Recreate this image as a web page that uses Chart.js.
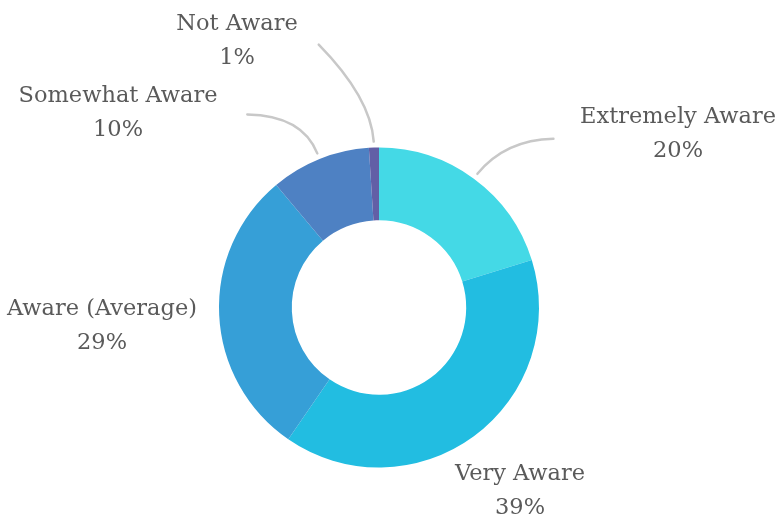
<!DOCTYPE html>
<html>
<head>
<meta charset="utf-8">
<script src="https://cdn.jsdelivr.net/npm/chart.js@4.4.1/dist/chart.umd.min.js"></script>
<style>
  html, body { margin: 0; padding: 0; background: #ffffff; }
  #wrap { width: 781px; height: 519px; }
</style>
</head>
<body>
<div id="wrap"><canvas id="chart" width="781" height="519"></canvas></div>
<script>
// Awareness levels, percent of respondents
const categories = ['Extremely Aware', 'Very Aware', 'Aware (Average)', 'Somewhat Aware', 'Not Aware'];
const shares = [20, 39, 29, 10, 1];
const sliceColors = ['#44D9E6', '#22BDE1', '#369FD7', '#4E81C3', '#625FA6'];

// Where each outside label sits, relative to the doughnut centre,
// and whether it gets a curved leader line back to its slice.
const labelLayout = [
  { dx: 299, dy: -190.5, leader: true,  ctrl: [28, -34], from: [76, -35] },
  { dx: 141, dy: 166.5,  leader: false },
  { dx: -277, dy: 1.5,   leader: false },
  { dx: -261, dy: -211.5, leader: true, ctrl: [-15, -38], from: [-70, -39] },
  { dx: -142, dy: -283.5, leader: true, ctrl: [-3, -44], from: [-55, -97] }
];

const outsideLabels = {
  id: 'outsideLabels',
  afterDatasetsDraw(chart) {
    const ctx = chart.ctx;
    const meta = chart.getDatasetMeta(0);
    const ds = chart.data.datasets[0];
    ctx.save();
    meta.data.forEach((arc, i) => {
      const p = arc.getProps(['x', 'y', 'startAngle', 'endAngle', 'outerRadius'], true);
      const mid = (p.startAngle + p.endAngle) / 2;
      const lay = labelLayout[i];
      const lx = p.x + lay.dx;
      const ly = p.y + lay.dy;
      if (lay.leader) {
        // leader ends just outside the slice's outer edge, at its mid angle
        const r = p.outerRadius + 6;
        const ex = p.x + Math.cos(mid) * r;
        const ey = p.y + Math.sin(mid) * r;
        ctx.beginPath();
        ctx.moveTo(ex + lay.from[0], ey + lay.from[1]);
        ctx.quadraticCurveTo(ex + lay.ctrl[0], ey + lay.ctrl[1], ex, ey);
        ctx.strokeStyle = '#c8c8c8';
        ctx.lineWidth = 2.5;
        ctx.lineCap = 'round';
        ctx.stroke();
      }
      ctx.fillStyle = '#5a5a5a';
      ctx.font = '22.5px "DejaVu Serif"';
      ctx.textAlign = 'center';
      ctx.textBaseline = 'middle';
      ctx.fillText(chart.data.labels[i], lx, ly);
      ctx.fillText(ds.data[i] + '%', lx, ly + 34);
    });
    ctx.restore();
  }
};

new Chart(document.getElementById('chart'), {
  type: 'doughnut',
  data: {
    labels: categories,
    datasets: [{
      data: shares,
      backgroundColor: sliceColors,
      borderWidth: 0,
      hoverOffset: 0
    }]
  },
  options: {
    responsive: false,
    animation: false,
    cutout: '54.5%',
    layout: { padding: { top: 147.5, bottom: 51.5, left: 0, right: 23 } },
    plugins: {
      legend: { display: false },
      tooltip: { enabled: false }
    }
  },
  plugins: [outsideLabels]
});
</script>
</body>
</html>
